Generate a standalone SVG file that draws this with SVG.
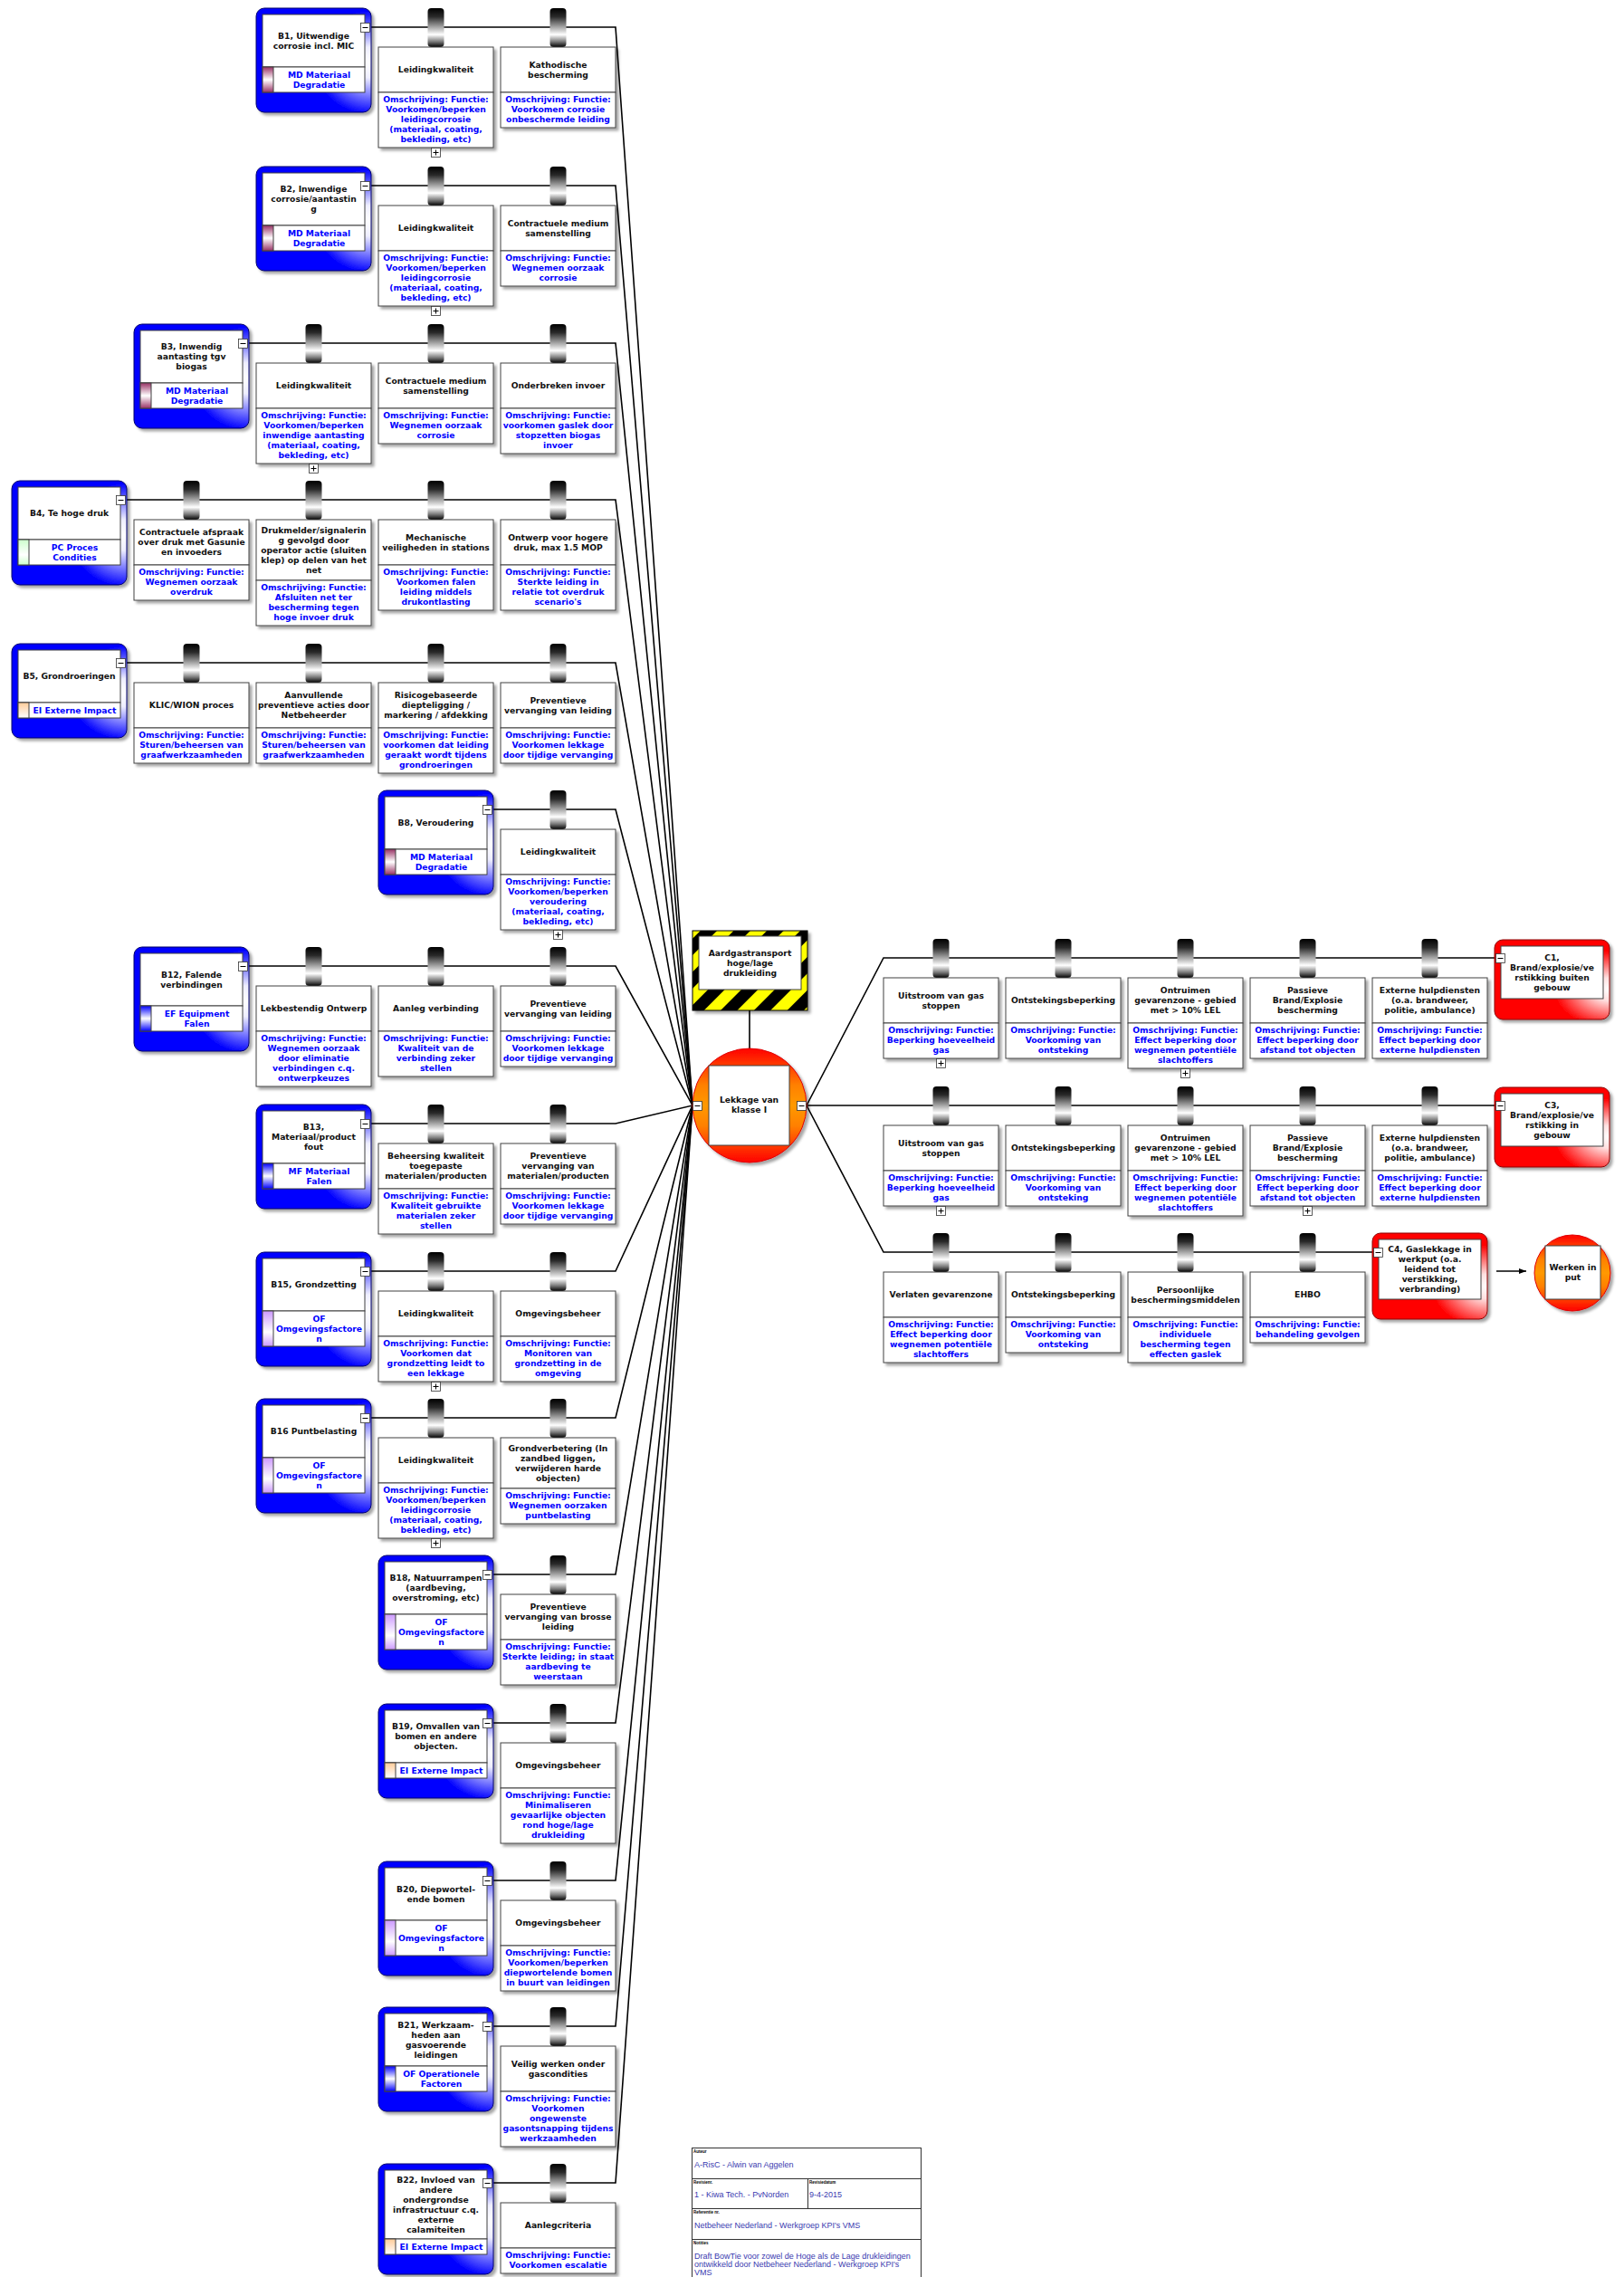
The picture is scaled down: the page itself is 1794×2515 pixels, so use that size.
<svg xmlns="http://www.w3.org/2000/svg" xmlns:xlink="http://www.w3.org/1999/xlink" width="1794" height="2515" viewBox="0 0 1794 2515">
<style>
  text { font-family: "DejaVu Sans", Verdana, sans-serif; font-weight: bold; font-size: 9.2px; text-anchor: middle; }
  .t { fill: #111111; }
  .d { fill: #0000ff; }
  .bx { fill: #ffffff; stroke: #404040; stroke-width: 1; }
  .thr { fill: url(#gThreat); stroke: #00006a; stroke-width: 1; }
  .con { fill: url(#gCons); stroke: #8a0000; stroke-width: 1; }
  .cyl { fill: url(#gCyl); }
  .sw { stroke: #404040; stroke-width: 1; }
  .ln { fill: none; stroke: #000000; stroke-width: 1.6; }
  .lg text { font-family: "Liberation Sans", Arial, sans-serif; font-weight: normal; text-anchor: start; font-size: 9px; fill: #3a3ab0; }
  .lg text.lb { font-weight: bold; font-size: 4.5px; fill: #000000; }
</style>
<defs>
  <filter id="sh" x="-10%" y="-10%" width="130%" height="130%">
    <feDropShadow dx="3" dy="3" stdDeviation="1.4" flood-color="#000000" flood-opacity="0.35"/>
  </filter>
  <radialGradient id="gThreat" cx="1" cy="0.52" r="0.5" fx="1" fy="0.52">
    <stop offset="0" stop-color="#ffffff"/>
    <stop offset="0.3" stop-color="#eeeeff"/>
    <stop offset="1" stop-color="#0000ff"/>
  </radialGradient>
  <radialGradient id="gCons" cx="1" cy="0.62" r="0.48" fx="1" fy="0.62">
    <stop offset="0" stop-color="#ffffff"/>
    <stop offset="0.3" stop-color="#ffe0e0"/>
    <stop offset="1" stop-color="#ff0000"/>
  </radialGradient>
  <linearGradient id="gCyl" x1="0" y1="0" x2="0" y2="1">
    <stop offset="0" stop-color="#000000"/>
    <stop offset="0.22" stop-color="#2a2a2a"/>
    <stop offset="0.68" stop-color="#ffffff"/>
    <stop offset="0.86" stop-color="#7a7a7a"/>
    <stop offset="1" stop-color="#000000"/>
  </linearGradient>
  <linearGradient id="gTop" x1="0" y1="0" x2="0" y2="1">
    <stop offset="0" stop-color="#ff0000"/>
    <stop offset="0.32" stop-color="#ff8000"/>
    <stop offset="0.5" stop-color="#ff9900"/>
    <stop offset="0.68" stop-color="#ff8000"/>
    <stop offset="1" stop-color="#ff0000"/>
  </linearGradient>
  <linearGradient id="swMD" x1="0" y1="0" x2="0" y2="1">
    <stop offset="0" stop-color="#993366"/><stop offset="0.5" stop-color="#ffffff"/><stop offset="1" stop-color="#993366"/>
  </linearGradient>
  <linearGradient id="swEF" x1="0" y1="0" x2="0" y2="1">
    <stop offset="0" stop-color="#0000ff"/><stop offset="0.5" stop-color="#ffffff"/><stop offset="1" stop-color="#0000ff"/>
  </linearGradient>
  <linearGradient id="swOF" x1="0" y1="0" x2="0" y2="1">
    <stop offset="0" stop-color="#cc99ff"/><stop offset="0.6" stop-color="#ffffff"/><stop offset="1" stop-color="#cc99ff"/>
  </linearGradient>
  <linearGradient id="swPC" x1="0" y1="0" x2="0" y2="1">
    <stop offset="0" stop-color="#ccffcc"/><stop offset="0.6" stop-color="#ffffff"/><stop offset="1" stop-color="#ccffcc"/>
  </linearGradient>
  <linearGradient id="swEI" x1="0" y1="0" x2="0" y2="1">
    <stop offset="0" stop-color="#ffcc99"/><stop offset="1" stop-color="#ffffff"/>
  </linearGradient>
  <pattern id="stripes" patternUnits="userSpaceOnUse" width="26" height="26" patternTransform="rotate(45)">
    <rect width="26" height="26" fill="#ffff00"/>
    <rect width="13" height="26" fill="#000000"/>
  </pattern>
  <marker id="arr" markerWidth="9" markerHeight="8" refX="8" refY="4" orient="auto" markerUnits="userSpaceOnUse">
    <path d="M0 1L8 4L0 7z" fill="#000000"/>
  </marker>
  <g id="minus"><rect x="0.5" y="0.5" width="10" height="10" fill="#ffffff" stroke="#333333" stroke-width="0.8"/><path d="M2.5 5.5h6" stroke="#000000" stroke-width="1"/></g>
  <g id="plus"><rect x="0.5" y="0.5" width="10" height="10" fill="#ffffff" stroke="#333333" stroke-width="0.8"/><path d="M2.5 5.5h6M5.5 2.5v6" stroke="#000000" stroke-width="1"/></g>
</defs>

<rect width="1794" height="2515" fill="#ffffff"/>

<!-- connectors -->
<g id="connectors" class="ln">
  <path d="M409 30H680L765 1221"/>
  <path d="M409 205H680L765 1221"/>
  <path d="M274 379H680L765 1221"/>
  <path d="M139 552H680L765 1221"/>
  <path d="M139 732H680L765 1221"/>
  <path d="M544 894H680L765 1221"/>
  <path d="M274 1067H680L765 1221"/>
  <path d="M409 1241H680L765 1221"/>
  <path d="M409 1404H680L765 1221"/>
  <path d="M409 1566H680L765 1221"/>
  <path d="M544 1739H680L765 1221"/>
  <path d="M544 1903H680L765 1221"/>
  <path d="M544 2077H680L765 1221"/>
  <path d="M544 2238H680L765 1221"/>
  <path d="M544 2411H680L765 1221"/>
  <path d="M828 1116V1158"/>
  <path d="M891 1221L976 1058H1652"/>
  <path d="M891 1221H1652"/>
  <path d="M891 1221L976 1383H1517"/>
  <path d="M1653 1404H1686" marker-end="url(#arr)"/>
</g>

<!-- ===== threats and their barriers ===== -->

<!-- B1 -->
<g id="threat-b1" transform="translate(283,0)">
  <rect class="thr" x="0" y="9" width="127" height="115" rx="9" filter="url(#sh)"/>
  <rect class="bx" x="7" y="16" width="113" height="58"/>
  <rect class="bx" x="7" y="74" width="113" height="28"/>
  <rect class="sw" x="7" y="74" width="12" height="28" fill="url(#swMD)"/>
  <text class="t" x="63.5" y="42.8">B1, Uitwendige<tspan x="63.5" dy="11">corrosie incl. MIC</tspan></text>
  <text class="d" x="69.5" y="85.8">MD Materiaal<tspan x="69.5" dy="11">Degradatie</tspan></text>
  <use href="#minus" x="115" y="25"/>
</g>
<g id="barrier-b1-1" transform="translate(418,0)">
  <rect class="cyl" x="54.5" y="9" width="18" height="43" rx="4"/>
  <g filter="url(#sh)"><rect class="bx" x="0" y="52" width="127" height="50"/><rect class="bx" x="0" y="102" width="127" height="61"/></g>
  <text class="t" x="63.5" y="80.3">Leidingkwaliteit</text>
  <text class="d" x="63.5" y="112.5">Omschrijving: Functie:<tspan x="63.5" dy="11">Voorkomen/beperken</tspan><tspan x="63.5" dy="11">leidingcorrosie</tspan><tspan x="63.5" dy="11">(materiaal, coating,</tspan><tspan x="63.5" dy="11">bekleding, etc)</tspan></text>
  <use href="#plus" x="58" y="163"/>
</g>
<g id="barrier-b1-2" transform="translate(553,0)">
  <rect class="cyl" x="54.5" y="9" width="18" height="43" rx="4"/>
  <g filter="url(#sh)"><rect class="bx" x="0" y="52" width="127" height="50"/><rect class="bx" x="0" y="102" width="127" height="39"/></g>
  <text class="t" x="63.5" y="74.8">Kathodische<tspan x="63.5" dy="11">bescherming</tspan></text>
  <text class="d" x="63.5" y="112.5">Omschrijving: Functie:<tspan x="63.5" dy="11">Voorkomen corrosie</tspan><tspan x="63.5" dy="11">onbeschermde leiding</tspan></text>
</g>

<!-- B2 -->
<g id="threat-b2" transform="translate(283,175)">
  <rect class="thr" x="0" y="9" width="127" height="115" rx="9" filter="url(#sh)"/>
  <rect class="bx" x="7" y="16" width="113" height="58"/>
  <rect class="bx" x="7" y="74" width="113" height="28"/>
  <rect class="sw" x="7" y="74" width="12" height="28" fill="url(#swMD)"/>
  <text class="t" x="63.5" y="37.3">B2, Inwendige<tspan x="63.5" dy="11">corrosie/aantastin</tspan><tspan x="63.5" dy="11">g</tspan></text>
  <text class="d" x="69.5" y="85.8">MD Materiaal<tspan x="69.5" dy="11">Degradatie</tspan></text>
  <use href="#minus" x="115" y="25"/>
</g>
<g id="barrier-b2-1" transform="translate(418,175)">
  <rect class="cyl" x="54.5" y="9" width="18" height="43" rx="4"/>
  <g filter="url(#sh)"><rect class="bx" x="0" y="52" width="127" height="50"/><rect class="bx" x="0" y="102" width="127" height="61"/></g>
  <text class="t" x="63.5" y="80.3">Leidingkwaliteit</text>
  <text class="d" x="63.5" y="112.5">Omschrijving: Functie:<tspan x="63.5" dy="11">Voorkomen/beperken</tspan><tspan x="63.5" dy="11">leidingcorrosie</tspan><tspan x="63.5" dy="11">(materiaal, coating,</tspan><tspan x="63.5" dy="11">bekleding, etc)</tspan></text>
  <use href="#plus" x="58" y="163"/>
</g>
<g id="barrier-b2-2" transform="translate(553,175)">
  <rect class="cyl" x="54.5" y="9" width="18" height="43" rx="4"/>
  <g filter="url(#sh)"><rect class="bx" x="0" y="52" width="127" height="50"/><rect class="bx" x="0" y="102" width="127" height="39"/></g>
  <text class="t" x="63.5" y="74.8">Contractuele medium<tspan x="63.5" dy="11">samenstelling</tspan></text>
  <text class="d" x="63.5" y="112.5">Omschrijving: Functie:<tspan x="63.5" dy="11">Wegnemen oorzaak</tspan><tspan x="63.5" dy="11">corrosie</tspan></text>
</g>

<!-- B3 -->
<g id="threat-b3" transform="translate(148,349)">
  <rect class="thr" x="0" y="9" width="127" height="115" rx="9" filter="url(#sh)"/>
  <rect class="bx" x="7" y="16" width="113" height="58"/>
  <rect class="bx" x="7" y="74" width="113" height="28"/>
  <rect class="sw" x="7" y="74" width="12" height="28" fill="url(#swMD)"/>
  <text class="t" x="63.5" y="37.3">B3, Inwendig<tspan x="63.5" dy="11">aantasting tgv</tspan><tspan x="63.5" dy="11">biogas</tspan></text>
  <text class="d" x="69.5" y="85.8">MD Materiaal<tspan x="69.5" dy="11">Degradatie</tspan></text>
  <use href="#minus" x="115" y="25"/>
</g>
<g id="barrier-b3-1" transform="translate(283,349)">
  <rect class="cyl" x="54.5" y="9" width="18" height="43" rx="4"/>
  <g filter="url(#sh)"><rect class="bx" x="0" y="52" width="127" height="50"/><rect class="bx" x="0" y="102" width="127" height="61"/></g>
  <text class="t" x="63.5" y="80.3">Leidingkwaliteit</text>
  <text class="d" x="63.5" y="112.5">Omschrijving: Functie:<tspan x="63.5" dy="11">Voorkomen/beperken</tspan><tspan x="63.5" dy="11">inwendige aantasting</tspan><tspan x="63.5" dy="11">(materiaal, coating,</tspan><tspan x="63.5" dy="11">bekleding, etc)</tspan></text>
  <use href="#plus" x="58" y="163"/>
</g>
<g id="barrier-b3-2" transform="translate(418,349)">
  <rect class="cyl" x="54.5" y="9" width="18" height="43" rx="4"/>
  <g filter="url(#sh)"><rect class="bx" x="0" y="52" width="127" height="50"/><rect class="bx" x="0" y="102" width="127" height="39"/></g>
  <text class="t" x="63.5" y="74.8">Contractuele medium<tspan x="63.5" dy="11">samenstelling</tspan></text>
  <text class="d" x="63.5" y="112.5">Omschrijving: Functie:<tspan x="63.5" dy="11">Wegnemen oorzaak</tspan><tspan x="63.5" dy="11">corrosie</tspan></text>
</g>
<g id="barrier-b3-3" transform="translate(553,349)">
  <rect class="cyl" x="54.5" y="9" width="18" height="43" rx="4"/>
  <g filter="url(#sh)"><rect class="bx" x="0" y="52" width="127" height="50"/><rect class="bx" x="0" y="102" width="127" height="50"/></g>
  <text class="t" x="63.5" y="80.3">Onderbreken invoer</text>
  <text class="d" x="63.5" y="112.5">Omschrijving: Functie:<tspan x="63.5" dy="11">voorkomen gaslek door</tspan><tspan x="63.5" dy="11">stopzetten biogas</tspan><tspan x="63.5" dy="11">invoer</tspan></text>
</g>

<!-- B4 -->
<g id="threat-b4" transform="translate(13,522)">
  <rect class="thr" x="0" y="9" width="127" height="115" rx="9" filter="url(#sh)"/>
  <rect class="bx" x="7" y="16" width="113" height="58"/>
  <rect class="bx" x="7" y="74" width="113" height="28"/>
  <rect class="sw" x="7" y="74" width="12" height="28" fill="url(#swPC)"/>
  <text class="t" x="63.5" y="48.3">B4, Te hoge druk</text>
  <text class="d" x="69.5" y="85.8">PC Proces<tspan x="69.5" dy="11">Condities</tspan></text>
  <use href="#minus" x="115" y="25"/>
</g>
<g id="barrier-b4-1" transform="translate(148,522)">
  <rect class="cyl" x="54.5" y="9" width="18" height="43" rx="4"/>
  <g filter="url(#sh)"><rect class="bx" x="0" y="52" width="127" height="50"/><rect class="bx" x="0" y="102" width="127" height="39"/></g>
  <text class="t" x="63.5" y="69.3">Contractuele afspraak<tspan x="63.5" dy="11">over druk met Gasunie</tspan><tspan x="63.5" dy="11">en invoeders</tspan></text>
  <text class="d" x="63.5" y="112.5">Omschrijving: Functie:<tspan x="63.5" dy="11">Wegnemen oorzaak</tspan><tspan x="63.5" dy="11">overdruk</tspan></text>
</g>
<g id="barrier-b4-2" transform="translate(283,522)">
  <rect class="cyl" x="54.5" y="9" width="18" height="43" rx="4"/>
  <g filter="url(#sh)"><rect class="bx" x="0" y="52" width="127" height="67"/><rect class="bx" x="0" y="119" width="127" height="50"/></g>
  <text class="t" x="63.5" y="66.8">Drukmelder/signalerin<tspan x="63.5" dy="11">g gevolgd door</tspan><tspan x="63.5" dy="11">operator actie (sluiten</tspan><tspan x="63.5" dy="11">klep) op delen van het</tspan><tspan x="63.5" dy="11">net</tspan></text>
  <text class="d" x="63.5" y="129.5">Omschrijving: Functie:<tspan x="63.5" dy="11">Afsluiten net ter</tspan><tspan x="63.5" dy="11">bescherming tegen</tspan><tspan x="63.5" dy="11">hoge invoer druk</tspan></text>
</g>
<g id="barrier-b4-3" transform="translate(418,522)">
  <rect class="cyl" x="54.5" y="9" width="18" height="43" rx="4"/>
  <g filter="url(#sh)"><rect class="bx" x="0" y="52" width="127" height="50"/><rect class="bx" x="0" y="102" width="127" height="50"/></g>
  <text class="t" x="63.5" y="74.8">Mechanische<tspan x="63.5" dy="11">veiligheden in stations</tspan></text>
  <text class="d" x="63.5" y="112.5">Omschrijving: Functie:<tspan x="63.5" dy="11">Voorkomen falen</tspan><tspan x="63.5" dy="11">leiding middels</tspan><tspan x="63.5" dy="11">drukontlasting</tspan></text>
</g>
<g id="barrier-b4-4" transform="translate(553,522)">
  <rect class="cyl" x="54.5" y="9" width="18" height="43" rx="4"/>
  <g filter="url(#sh)"><rect class="bx" x="0" y="52" width="127" height="50"/><rect class="bx" x="0" y="102" width="127" height="50"/></g>
  <text class="t" x="63.5" y="74.8">Ontwerp voor hogere<tspan x="63.5" dy="11">druk, max 1.5 MOP</tspan></text>
  <text class="d" x="63.5" y="112.5">Omschrijving: Functie:<tspan x="63.5" dy="11">Sterkte leiding in</tspan><tspan x="63.5" dy="11">relatie tot overdruk</tspan><tspan x="63.5" dy="11">scenario's</tspan></text>
</g>

<!-- B5 -->
<g id="threat-b5" transform="translate(13,702)">
  <rect class="thr" x="0" y="9" width="127" height="104" rx="9" filter="url(#sh)"/>
  <rect class="bx" x="7" y="16" width="113" height="58"/>
  <rect class="bx" x="7" y="74" width="113" height="17"/>
  <rect class="sw" x="7" y="74" width="12" height="17" fill="url(#swEI)"/>
  <text class="t" x="63.5" y="48.3">B5, Grondroeringen</text>
  <text class="d" x="69.5" y="85.8">EI Externe Impact</text>
  <use href="#minus" x="115" y="25"/>
</g>
<g id="barrier-b5-1" transform="translate(148,702)">
  <rect class="cyl" x="54.5" y="9" width="18" height="43" rx="4"/>
  <g filter="url(#sh)"><rect class="bx" x="0" y="52" width="127" height="50"/><rect class="bx" x="0" y="102" width="127" height="39"/></g>
  <text class="t" x="63.5" y="80.3">KLIC/WION proces</text>
  <text class="d" x="63.5" y="112.5">Omschrijving: Functie:<tspan x="63.5" dy="11">Sturen/beheersen van</tspan><tspan x="63.5" dy="11">graafwerkzaamheden</tspan></text>
</g>
<g id="barrier-b5-2" transform="translate(283,702)">
  <rect class="cyl" x="54.5" y="9" width="18" height="43" rx="4"/>
  <g filter="url(#sh)"><rect class="bx" x="0" y="52" width="127" height="50"/><rect class="bx" x="0" y="102" width="127" height="39"/></g>
  <text class="t" x="63.5" y="69.3">Aanvullende<tspan x="63.5" dy="11">preventieve acties door</tspan><tspan x="63.5" dy="11">Netbeheerder</tspan></text>
  <text class="d" x="63.5" y="112.5">Omschrijving: Functie:<tspan x="63.5" dy="11">Sturen/beheersen van</tspan><tspan x="63.5" dy="11">graafwerkzaamheden</tspan></text>
</g>
<g id="barrier-b5-3" transform="translate(418,702)">
  <rect class="cyl" x="54.5" y="9" width="18" height="43" rx="4"/>
  <g filter="url(#sh)"><rect class="bx" x="0" y="52" width="127" height="50"/><rect class="bx" x="0" y="102" width="127" height="50"/></g>
  <text class="t" x="63.5" y="69.3">Risicogebaseerde<tspan x="63.5" dy="11">diepteligging /</tspan><tspan x="63.5" dy="11">markering / afdekking</tspan></text>
  <text class="d" x="63.5" y="112.5">Omschrijving: Functie:<tspan x="63.5" dy="11">voorkomen dat leiding</tspan><tspan x="63.5" dy="11">geraakt wordt tijdens</tspan><tspan x="63.5" dy="11">grondroeringen</tspan></text>
</g>
<g id="barrier-b5-4" transform="translate(553,702)">
  <rect class="cyl" x="54.5" y="9" width="18" height="43" rx="4"/>
  <g filter="url(#sh)"><rect class="bx" x="0" y="52" width="127" height="50"/><rect class="bx" x="0" y="102" width="127" height="39"/></g>
  <text class="t" x="63.5" y="74.8">Preventieve<tspan x="63.5" dy="11">vervanging van leiding</tspan></text>
  <text class="d" x="63.5" y="112.5">Omschrijving: Functie:<tspan x="63.5" dy="11">Voorkomen lekkage</tspan><tspan x="63.5" dy="11">door tijdige vervanging</tspan></text>
</g>

<!-- B8 -->
<g id="threat-b8" transform="translate(418,864)">
  <rect class="thr" x="0" y="9" width="127" height="115" rx="9" filter="url(#sh)"/>
  <rect class="bx" x="7" y="16" width="113" height="58"/>
  <rect class="bx" x="7" y="74" width="113" height="28"/>
  <rect class="sw" x="7" y="74" width="12" height="28" fill="url(#swMD)"/>
  <text class="t" x="63.5" y="48.3">B8, Veroudering</text>
  <text class="d" x="69.5" y="85.8">MD Materiaal<tspan x="69.5" dy="11">Degradatie</tspan></text>
  <use href="#minus" x="115" y="25"/>
</g>
<g id="barrier-b8-1" transform="translate(553,864)">
  <rect class="cyl" x="54.5" y="9" width="18" height="43" rx="4"/>
  <g filter="url(#sh)"><rect class="bx" x="0" y="52" width="127" height="50"/><rect class="bx" x="0" y="102" width="127" height="61"/></g>
  <text class="t" x="63.5" y="80.3">Leidingkwaliteit</text>
  <text class="d" x="63.5" y="112.5">Omschrijving: Functie:<tspan x="63.5" dy="11">Voorkomen/beperken</tspan><tspan x="63.5" dy="11">veroudering</tspan><tspan x="63.5" dy="11">(materiaal, coating,</tspan><tspan x="63.5" dy="11">bekleding, etc)</tspan></text>
  <use href="#plus" x="58" y="163"/>
</g>

<!-- B12 -->
<g id="threat-b12" transform="translate(148,1037)">
  <rect class="thr" x="0" y="9" width="127" height="115" rx="9" filter="url(#sh)"/>
  <rect class="bx" x="7" y="16" width="113" height="58"/>
  <rect class="bx" x="7" y="74" width="113" height="28"/>
  <rect class="sw" x="7" y="74" width="12" height="28" fill="url(#swEF)"/>
  <text class="t" x="63.5" y="42.8">B12, Falende<tspan x="63.5" dy="11">verbindingen</tspan></text>
  <text class="d" x="69.5" y="85.8">EF Equipment<tspan x="69.5" dy="11">Falen</tspan></text>
  <use href="#minus" x="115" y="25"/>
</g>
<g id="barrier-b12-1" transform="translate(283,1037)">
  <rect class="cyl" x="54.5" y="9" width="18" height="43" rx="4"/>
  <g filter="url(#sh)"><rect class="bx" x="0" y="52" width="127" height="50"/><rect class="bx" x="0" y="102" width="127" height="61"/></g>
  <text class="t" x="63.5" y="80.3">Lekbestendig Ontwerp</text>
  <text class="d" x="63.5" y="112.5">Omschrijving: Functie:<tspan x="63.5" dy="11">Wegnemen oorzaak</tspan><tspan x="63.5" dy="11">door eliminatie</tspan><tspan x="63.5" dy="11">verbindingen c.q.</tspan><tspan x="63.5" dy="11">ontwerpkeuzes</tspan></text>
</g>
<g id="barrier-b12-2" transform="translate(418,1037)">
  <rect class="cyl" x="54.5" y="9" width="18" height="43" rx="4"/>
  <g filter="url(#sh)"><rect class="bx" x="0" y="52" width="127" height="50"/><rect class="bx" x="0" y="102" width="127" height="50"/></g>
  <text class="t" x="63.5" y="80.3">Aanleg verbinding</text>
  <text class="d" x="63.5" y="112.5">Omschrijving: Functie:<tspan x="63.5" dy="11">Kwaliteit van de</tspan><tspan x="63.5" dy="11">verbinding zeker</tspan><tspan x="63.5" dy="11">stellen</tspan></text>
</g>
<g id="barrier-b12-3" transform="translate(553,1037)">
  <rect class="cyl" x="54.5" y="9" width="18" height="43" rx="4"/>
  <g filter="url(#sh)"><rect class="bx" x="0" y="52" width="127" height="50"/><rect class="bx" x="0" y="102" width="127" height="39"/></g>
  <text class="t" x="63.5" y="74.8">Preventieve<tspan x="63.5" dy="11">vervanging van leiding</tspan></text>
  <text class="d" x="63.5" y="112.5">Omschrijving: Functie:<tspan x="63.5" dy="11">Voorkomen lekkage</tspan><tspan x="63.5" dy="11">door tijdige vervanging</tspan></text>
</g>

<!-- B13 -->
<g id="threat-b13" transform="translate(283,1211)">
  <rect class="thr" x="0" y="9" width="127" height="115" rx="9" filter="url(#sh)"/>
  <rect class="bx" x="7" y="16" width="113" height="58"/>
  <rect class="bx" x="7" y="74" width="113" height="28"/>
  <rect class="sw" x="7" y="74" width="12" height="28" fill="url(#swEF)"/>
  <text class="t" x="63.5" y="37.3">B13,<tspan x="63.5" dy="11">Materiaal/product</tspan><tspan x="63.5" dy="11">fout</tspan></text>
  <text class="d" x="69.5" y="85.8">MF Materiaal<tspan x="69.5" dy="11">Falen</tspan></text>
  <use href="#minus" x="115" y="25"/>
</g>
<g id="barrier-b13-1" transform="translate(418,1211)">
  <rect class="cyl" x="54.5" y="9" width="18" height="43" rx="4"/>
  <g filter="url(#sh)"><rect class="bx" x="0" y="52" width="127" height="50"/><rect class="bx" x="0" y="102" width="127" height="50"/></g>
  <text class="t" x="63.5" y="69.3">Beheersing kwaliteit<tspan x="63.5" dy="11">toegepaste</tspan><tspan x="63.5" dy="11">materialen/producten</tspan></text>
  <text class="d" x="63.5" y="112.5">Omschrijving: Functie:<tspan x="63.5" dy="11">Kwaliteit gebruikte</tspan><tspan x="63.5" dy="11">materialen zeker</tspan><tspan x="63.5" dy="11">stellen</tspan></text>
</g>
<g id="barrier-b13-2" transform="translate(553,1211)">
  <rect class="cyl" x="54.5" y="9" width="18" height="43" rx="4"/>
  <g filter="url(#sh)"><rect class="bx" x="0" y="52" width="127" height="50"/><rect class="bx" x="0" y="102" width="127" height="39"/></g>
  <text class="t" x="63.5" y="69.3">Preventieve<tspan x="63.5" dy="11">vervanging van</tspan><tspan x="63.5" dy="11">materialen/producten</tspan></text>
  <text class="d" x="63.5" y="112.5">Omschrijving: Functie:<tspan x="63.5" dy="11">Voorkomen lekkage</tspan><tspan x="63.5" dy="11">door tijdige vervanging</tspan></text>
</g>

<!-- B15 -->
<g id="threat-b15" transform="translate(283,1374)">
  <rect class="thr" x="0" y="9" width="127" height="126" rx="9" filter="url(#sh)"/>
  <rect class="bx" x="7" y="16" width="113" height="58"/>
  <rect class="bx" x="7" y="74" width="113" height="39"/>
  <rect class="sw" x="7" y="74" width="12" height="39" fill="url(#swOF)"/>
  <text class="t" x="63.5" y="48.3">B15, Grondzetting</text>
  <text class="d" x="69.5" y="85.8">OF<tspan x="69.5" dy="11">Omgevingsfactore</tspan><tspan x="69.5" dy="11">n</tspan></text>
  <use href="#minus" x="115" y="25"/>
</g>
<g id="barrier-b15-1" transform="translate(418,1374)">
  <rect class="cyl" x="54.5" y="9" width="18" height="43" rx="4"/>
  <g filter="url(#sh)"><rect class="bx" x="0" y="52" width="127" height="50"/><rect class="bx" x="0" y="102" width="127" height="50"/></g>
  <text class="t" x="63.5" y="80.3">Leidingkwaliteit</text>
  <text class="d" x="63.5" y="112.5">Omschrijving: Functie:<tspan x="63.5" dy="11">Voorkomen dat</tspan><tspan x="63.5" dy="11">grondzetting leidt to</tspan><tspan x="63.5" dy="11">een lekkage</tspan></text>
  <use href="#plus" x="58" y="152"/>
</g>
<g id="barrier-b15-2" transform="translate(553,1374)">
  <rect class="cyl" x="54.5" y="9" width="18" height="43" rx="4"/>
  <g filter="url(#sh)"><rect class="bx" x="0" y="52" width="127" height="50"/><rect class="bx" x="0" y="102" width="127" height="50"/></g>
  <text class="t" x="63.5" y="80.3">Omgevingsbeheer</text>
  <text class="d" x="63.5" y="112.5">Omschrijving: Functie:<tspan x="63.5" dy="11">Monitoren van</tspan><tspan x="63.5" dy="11">grondzetting in de</tspan><tspan x="63.5" dy="11">omgeving</tspan></text>
</g>

<!-- B16 -->
<g id="threat-b16" transform="translate(283,1536)">
  <rect class="thr" x="0" y="9" width="127" height="126" rx="9" filter="url(#sh)"/>
  <rect class="bx" x="7" y="16" width="113" height="58"/>
  <rect class="bx" x="7" y="74" width="113" height="39"/>
  <rect class="sw" x="7" y="74" width="12" height="39" fill="url(#swOF)"/>
  <text class="t" x="63.5" y="48.3">B16 Puntbelasting</text>
  <text class="d" x="69.5" y="85.8">OF<tspan x="69.5" dy="11">Omgevingsfactore</tspan><tspan x="69.5" dy="11">n</tspan></text>
  <use href="#minus" x="115" y="25"/>
</g>
<g id="barrier-b16-1" transform="translate(418,1536)">
  <rect class="cyl" x="54.5" y="9" width="18" height="43" rx="4"/>
  <g filter="url(#sh)"><rect class="bx" x="0" y="52" width="127" height="50"/><rect class="bx" x="0" y="102" width="127" height="61"/></g>
  <text class="t" x="63.5" y="80.3">Leidingkwaliteit</text>
  <text class="d" x="63.5" y="112.5">Omschrijving: Functie:<tspan x="63.5" dy="11">Voorkomen/beperken</tspan><tspan x="63.5" dy="11">leidingcorrosie</tspan><tspan x="63.5" dy="11">(materiaal, coating,</tspan><tspan x="63.5" dy="11">bekleding, etc)</tspan></text>
  <use href="#plus" x="58" y="163"/>
</g>
<g id="barrier-b16-2" transform="translate(553,1536)">
  <rect class="cyl" x="54.5" y="9" width="18" height="43" rx="4"/>
  <g filter="url(#sh)"><rect class="bx" x="0" y="52" width="127" height="56"/><rect class="bx" x="0" y="108" width="127" height="39"/></g>
  <text class="t" x="63.5" y="66.8">Grondverbetering (In<tspan x="63.5" dy="11">zandbed liggen,</tspan><tspan x="63.5" dy="11">verwijderen harde</tspan><tspan x="63.5" dy="11">objecten)</tspan></text>
  <text class="d" x="63.5" y="118.5">Omschrijving: Functie:<tspan x="63.5" dy="11">Wegnemen oorzaken</tspan><tspan x="63.5" dy="11">puntbelasting</tspan></text>
</g>

<!-- B18 -->
<g id="threat-b18" transform="translate(418,1709)">
  <rect class="thr" x="0" y="9" width="127" height="126" rx="9" filter="url(#sh)"/>
  <rect class="bx" x="7" y="16" width="113" height="58"/>
  <rect class="bx" x="7" y="74" width="113" height="39"/>
  <rect class="sw" x="7" y="74" width="12" height="39" fill="url(#swOF)"/>
  <text class="t" x="63.5" y="37.3">B18, Natuurrampen<tspan x="63.5" dy="11">(aardbeving,</tspan><tspan x="63.5" dy="11">overstroming, etc)</tspan></text>
  <text class="d" x="69.5" y="85.8">OF<tspan x="69.5" dy="11">Omgevingsfactore</tspan><tspan x="69.5" dy="11">n</tspan></text>
  <use href="#minus" x="115" y="25"/>
</g>
<g id="barrier-b18-1" transform="translate(553,1709)">
  <rect class="cyl" x="54.5" y="9" width="18" height="43" rx="4"/>
  <g filter="url(#sh)"><rect class="bx" x="0" y="52" width="127" height="50"/><rect class="bx" x="0" y="102" width="127" height="50"/></g>
  <text class="t" x="63.5" y="69.3">Preventieve<tspan x="63.5" dy="11">vervanging van brosse</tspan><tspan x="63.5" dy="11">leiding</tspan></text>
  <text class="d" x="63.5" y="112.5">Omschrijving: Functie:<tspan x="63.5" dy="11">Sterkte leiding; in staat</tspan><tspan x="63.5" dy="11">aardbeving te</tspan><tspan x="63.5" dy="11">weerstaan</tspan></text>
</g>

<!-- B19 -->
<g id="threat-b19" transform="translate(418,1873)">
  <rect class="thr" x="0" y="9" width="127" height="104" rx="9" filter="url(#sh)"/>
  <rect class="bx" x="7" y="16" width="113" height="58"/>
  <rect class="bx" x="7" y="74" width="113" height="17"/>
  <rect class="sw" x="7" y="74" width="12" height="17" fill="url(#swEI)"/>
  <text class="t" x="63.5" y="37.3">B19, Omvallen van<tspan x="63.5" dy="11">bomen en andere</tspan><tspan x="63.5" dy="11">objecten.</tspan></text>
  <text class="d" x="69.5" y="85.8">EI Externe Impact</text>
  <use href="#minus" x="115" y="25"/>
</g>
<g id="barrier-b19-1" transform="translate(553,1873)">
  <rect class="cyl" x="54.5" y="9" width="18" height="43" rx="4"/>
  <g filter="url(#sh)"><rect class="bx" x="0" y="52" width="127" height="50"/><rect class="bx" x="0" y="102" width="127" height="61"/></g>
  <text class="t" x="63.5" y="80.3">Omgevingsbeheer</text>
  <text class="d" x="63.5" y="112.5">Omschrijving: Functie:<tspan x="63.5" dy="11">Minimaliseren</tspan><tspan x="63.5" dy="11">gevaarlijke objecten</tspan><tspan x="63.5" dy="11">rond hoge/lage</tspan><tspan x="63.5" dy="11">drukleiding</tspan></text>
</g>

<!-- B20 -->
<g id="threat-b20" transform="translate(418,2047)">
  <rect class="thr" x="0" y="9" width="127" height="126" rx="9" filter="url(#sh)"/>
  <rect class="bx" x="7" y="16" width="113" height="58"/>
  <rect class="bx" x="7" y="74" width="113" height="39"/>
  <rect class="sw" x="7" y="74" width="12" height="39" fill="url(#swOF)"/>
  <text class="t" x="63.5" y="42.8">B20, Diepwortel-<tspan x="63.5" dy="11">ende bomen</tspan></text>
  <text class="d" x="69.5" y="85.8">OF<tspan x="69.5" dy="11">Omgevingsfactore</tspan><tspan x="69.5" dy="11">n</tspan></text>
  <use href="#minus" x="115" y="25"/>
</g>
<g id="barrier-b20-1" transform="translate(553,2047)">
  <rect class="cyl" x="54.5" y="9" width="18" height="43" rx="4"/>
  <g filter="url(#sh)"><rect class="bx" x="0" y="52" width="127" height="50"/><rect class="bx" x="0" y="102" width="127" height="50"/></g>
  <text class="t" x="63.5" y="80.3">Omgevingsbeheer</text>
  <text class="d" x="63.5" y="112.5">Omschrijving: Functie:<tspan x="63.5" dy="11">Voorkomen/beperken</tspan><tspan x="63.5" dy="11">diepwortelende bomen</tspan><tspan x="63.5" dy="11">in buurt van leidingen</tspan></text>
</g>

<!-- B21 -->
<g id="threat-b21" transform="translate(418,2208)">
  <rect class="thr" x="0" y="9" width="127" height="115" rx="9" filter="url(#sh)"/>
  <rect class="bx" x="7" y="16" width="113" height="58"/>
  <rect class="bx" x="7" y="74" width="113" height="28"/>
  <rect class="sw" x="7" y="74" width="12" height="28" fill="url(#swEF)"/>
  <text class="t" x="63.5" y="31.8">B21, Werkzaam-<tspan x="63.5" dy="11">heden aan</tspan><tspan x="63.5" dy="11">gasvoerende</tspan><tspan x="63.5" dy="11">leidingen</tspan></text>
  <text class="d" x="69.5" y="85.8">OF Operationele<tspan x="69.5" dy="11">Factoren</tspan></text>
  <use href="#minus" x="115" y="25"/>
</g>
<g id="barrier-b21-1" transform="translate(553,2208)">
  <rect class="cyl" x="54.5" y="9" width="18" height="43" rx="4"/>
  <g filter="url(#sh)"><rect class="bx" x="0" y="52" width="127" height="50"/><rect class="bx" x="0" y="102" width="127" height="61"/></g>
  <text class="t" x="63.5" y="74.8">Veilig werken onder<tspan x="63.5" dy="11">gascondities</tspan></text>
  <text class="d" x="63.5" y="112.5">Omschrijving: Functie:<tspan x="63.5" dy="11">Voorkomen</tspan><tspan x="63.5" dy="11">ongewenste</tspan><tspan x="63.5" dy="11">gasontsnapping tijdens</tspan><tspan x="63.5" dy="11">werkzaamheden</tspan></text>
</g>

<!-- B22 -->
<g id="threat-b22" transform="translate(418,2381)">
  <rect class="thr" x="0" y="9" width="127" height="122" rx="9" filter="url(#sh)"/>
  <rect class="bx" x="7" y="16" width="113" height="76"/>
  <rect class="bx" x="7" y="92" width="113" height="17"/>
  <rect class="sw" x="7" y="92" width="12" height="17" fill="url(#swEI)"/>
  <text class="t" x="63.5" y="29.8">B22, Invloed van<tspan x="63.5" dy="11">andere</tspan><tspan x="63.5" dy="11">ondergrondse</tspan><tspan x="63.5" dy="11">infrastructuur c.q.</tspan><tspan x="63.5" dy="11">externe</tspan><tspan x="63.5" dy="11">calamiteiten</tspan></text>
  <text class="d" x="69.5" y="103.8">EI Externe Impact</text>
  <use href="#minus" x="115" y="25"/>
</g>
<g id="barrier-b22-1" transform="translate(553,2381)">
  <rect class="cyl" x="54.5" y="9" width="18" height="43" rx="4"/>
  <g filter="url(#sh)"><rect class="bx" x="0" y="52" width="127" height="50"/><rect class="bx" x="0" y="102" width="127" height="28"/></g>
  <text class="t" x="63.5" y="80.3">Aanlegcriteria</text>
  <text class="d" x="63.5" y="112.5">Omschrijving: Functie:<tspan x="63.5" dy="11">Voorkomen escalatie</tspan></text>
</g>

<!-- ===== hazard and top event ===== -->
<g id="hazard">
  <rect x="765" y="1028" width="127" height="88" fill="url(#stripes)" stroke="#000000" stroke-width="1" filter="url(#sh)"/>
  <rect class="bx" x="772" y="1034" width="113" height="59"/>
  <text class="t" x="828.5" y="1055.8">Aardgastransport<tspan x="828.5" dy="11">hoge/lage</tspan><tspan x="828.5" dy="11">drukleiding</tspan></text>
</g>
<g id="top-event">
  <circle cx="828" cy="1221" r="63" fill="url(#gTop)" stroke="#e00000" stroke-width="1" filter="url(#sh)"/>
  <rect class="bx" x="783" y="1177" width="89" height="88"/>
  <text class="t" x="827.5" y="1218.3">Lekkage van<tspan x="827.5" dy="11">klasse I</tspan></text>
  <use href="#minus" x="765" y="1216"/>
  <use href="#minus" x="880" y="1216"/>
</g>

<!-- ===== consequence side: row C1 ===== -->
<g id="barrier-c1-1" transform="translate(976,1028)">
  <rect class="cyl" x="54.5" y="9" width="18" height="43" rx="4"/>
  <g filter="url(#sh)"><rect class="bx" x="0" y="52" width="127" height="50"/><rect class="bx" x="0" y="102" width="127" height="39"/></g>
  <text class="t" x="63.5" y="74.8">Uitstroom van gas<tspan x="63.5" dy="11">stoppen</tspan></text>
  <text class="d" x="63.5" y="112.5">Omschrijving: Functie:<tspan x="63.5" dy="11">Beperking hoeveelheid</tspan><tspan x="63.5" dy="11">gas</tspan></text>
  <use href="#plus" x="58" y="141"/>
</g>
<g id="barrier-c1-2" transform="translate(1111,1028)">
  <rect class="cyl" x="54.5" y="9" width="18" height="43" rx="4"/>
  <g filter="url(#sh)"><rect class="bx" x="0" y="52" width="127" height="50"/><rect class="bx" x="0" y="102" width="127" height="39"/></g>
  <text class="t" x="63.5" y="80.3">Ontstekingsbeperking</text>
  <text class="d" x="63.5" y="112.5">Omschrijving: Functie:<tspan x="63.5" dy="11">Voorkoming van</tspan><tspan x="63.5" dy="11">ontsteking</tspan></text>
</g>
<g id="barrier-c1-3" transform="translate(1246,1028)">
  <rect class="cyl" x="54.5" y="9" width="18" height="43" rx="4"/>
  <g filter="url(#sh)"><rect class="bx" x="0" y="52" width="127" height="50"/><rect class="bx" x="0" y="102" width="127" height="50"/></g>
  <text class="t" x="63.5" y="69.3">Ontruimen<tspan x="63.5" dy="11">gevarenzone - gebied</tspan><tspan x="63.5" dy="11">met &gt; 10% LEL</tspan></text>
  <text class="d" x="63.5" y="112.5">Omschrijving: Functie:<tspan x="63.5" dy="11">Effect beperking door</tspan><tspan x="63.5" dy="11">wegnemen potentiële</tspan><tspan x="63.5" dy="11">slachtoffers</tspan></text>
  <use href="#plus" x="58" y="152"/>
</g>
<g id="barrier-c1-4" transform="translate(1381,1028)">
  <rect class="cyl" x="54.5" y="9" width="18" height="43" rx="4"/>
  <g filter="url(#sh)"><rect class="bx" x="0" y="52" width="127" height="50"/><rect class="bx" x="0" y="102" width="127" height="39"/></g>
  <text class="t" x="63.5" y="69.3">Passieve<tspan x="63.5" dy="11">Brand/Explosie</tspan><tspan x="63.5" dy="11">bescherming</tspan></text>
  <text class="d" x="63.5" y="112.5">Omschrijving: Functie:<tspan x="63.5" dy="11">Effect beperking door</tspan><tspan x="63.5" dy="11">afstand tot objecten</tspan></text>
</g>
<g id="barrier-c1-5" transform="translate(1516,1028)">
  <rect class="cyl" x="54.5" y="9" width="18" height="43" rx="4"/>
  <g filter="url(#sh)"><rect class="bx" x="0" y="52" width="127" height="50"/><rect class="bx" x="0" y="102" width="127" height="39"/></g>
  <text class="t" x="63.5" y="69.3">Externe hulpdiensten<tspan x="63.5" dy="11">(o.a. brandweer,</tspan><tspan x="63.5" dy="11">politie, ambulance)</tspan></text>
  <text class="d" x="63.5" y="112.5">Omschrijving: Functie:<tspan x="63.5" dy="11">Effect beperking door</tspan><tspan x="63.5" dy="11">externe hulpdiensten</tspan></text>
</g>
<g id="consequence-c1" transform="translate(1651,1028)">
  <rect class="con" x="0" y="10" width="127" height="88" rx="9" filter="url(#sh)"/>
  <rect class="bx" x="7" y="17" width="113" height="58"/>
  <text class="t" x="63.5" y="32.8">C1,<tspan x="63.5" dy="11">Brand/explosie/ve</tspan><tspan x="63.5" dy="11">rstikking buiten</tspan><tspan x="63.5" dy="11">gebouw</tspan></text>
  <use href="#minus" x="1" y="25"/>
</g>

<!-- row C3 -->
<g id="barrier-c3-1" transform="translate(976,1191)">
  <rect class="cyl" x="54.5" y="9" width="18" height="43" rx="4"/>
  <g filter="url(#sh)"><rect class="bx" x="0" y="52" width="127" height="50"/><rect class="bx" x="0" y="102" width="127" height="39"/></g>
  <text class="t" x="63.5" y="74.8">Uitstroom van gas<tspan x="63.5" dy="11">stoppen</tspan></text>
  <text class="d" x="63.5" y="112.5">Omschrijving: Functie:<tspan x="63.5" dy="11">Beperking hoeveelheid</tspan><tspan x="63.5" dy="11">gas</tspan></text>
  <use href="#plus" x="58" y="141"/>
</g>
<g id="barrier-c3-2" transform="translate(1111,1191)">
  <rect class="cyl" x="54.5" y="9" width="18" height="43" rx="4"/>
  <g filter="url(#sh)"><rect class="bx" x="0" y="52" width="127" height="50"/><rect class="bx" x="0" y="102" width="127" height="39"/></g>
  <text class="t" x="63.5" y="80.3">Ontstekingsbeperking</text>
  <text class="d" x="63.5" y="112.5">Omschrijving: Functie:<tspan x="63.5" dy="11">Voorkoming van</tspan><tspan x="63.5" dy="11">ontsteking</tspan></text>
</g>
<g id="barrier-c3-3" transform="translate(1246,1191)">
  <rect class="cyl" x="54.5" y="9" width="18" height="43" rx="4"/>
  <g filter="url(#sh)"><rect class="bx" x="0" y="52" width="127" height="50"/><rect class="bx" x="0" y="102" width="127" height="50"/></g>
  <text class="t" x="63.5" y="69.3">Ontruimen<tspan x="63.5" dy="11">gevarenzone - gebied</tspan><tspan x="63.5" dy="11">met &gt; 10% LEL</tspan></text>
  <text class="d" x="63.5" y="112.5">Omschrijving: Functie:<tspan x="63.5" dy="11">Effect beperking door</tspan><tspan x="63.5" dy="11">wegnemen potentiële</tspan><tspan x="63.5" dy="11">slachtoffers</tspan></text>
</g>
<g id="barrier-c3-4" transform="translate(1381,1191)">
  <rect class="cyl" x="54.5" y="9" width="18" height="43" rx="4"/>
  <g filter="url(#sh)"><rect class="bx" x="0" y="52" width="127" height="50"/><rect class="bx" x="0" y="102" width="127" height="39"/></g>
  <text class="t" x="63.5" y="69.3">Passieve<tspan x="63.5" dy="11">Brand/Explosie</tspan><tspan x="63.5" dy="11">bescherming</tspan></text>
  <text class="d" x="63.5" y="112.5">Omschrijving: Functie:<tspan x="63.5" dy="11">Effect beperking door</tspan><tspan x="63.5" dy="11">afstand tot objecten</tspan></text>
  <use href="#plus" x="58" y="141"/>
</g>
<g id="barrier-c3-5" transform="translate(1516,1191)">
  <rect class="cyl" x="54.5" y="9" width="18" height="43" rx="4"/>
  <g filter="url(#sh)"><rect class="bx" x="0" y="52" width="127" height="50"/><rect class="bx" x="0" y="102" width="127" height="39"/></g>
  <text class="t" x="63.5" y="69.3">Externe hulpdiensten<tspan x="63.5" dy="11">(o.a. brandweer,</tspan><tspan x="63.5" dy="11">politie, ambulance)</tspan></text>
  <text class="d" x="63.5" y="112.5">Omschrijving: Functie:<tspan x="63.5" dy="11">Effect beperking door</tspan><tspan x="63.5" dy="11">externe hulpdiensten</tspan></text>
</g>
<g id="consequence-c3" transform="translate(1651,1191)">
  <rect class="con" x="0" y="10" width="127" height="88" rx="9" filter="url(#sh)"/>
  <rect class="bx" x="7" y="17" width="113" height="58"/>
  <text class="t" x="63.5" y="32.8">C3,<tspan x="63.5" dy="11">Brand/explosie/ve</tspan><tspan x="63.5" dy="11">rstikking  in</tspan><tspan x="63.5" dy="11">gebouw</tspan></text>
  <use href="#minus" x="1" y="25"/>
</g>

<!-- row C4 -->
<g id="barrier-c4-1" transform="translate(976,1353)">
  <rect class="cyl" x="54.5" y="9" width="18" height="43" rx="4"/>
  <g filter="url(#sh)"><rect class="bx" x="0" y="52" width="127" height="50"/><rect class="bx" x="0" y="102" width="127" height="50"/></g>
  <text class="t" x="63.5" y="80.3">Verlaten gevarenzone</text>
  <text class="d" x="63.5" y="112.5">Omschrijving: Functie:<tspan x="63.5" dy="11">Effect beperking door</tspan><tspan x="63.5" dy="11">wegnemen potentiële</tspan><tspan x="63.5" dy="11">slachtoffers</tspan></text>
</g>
<g id="barrier-c4-2" transform="translate(1111,1353)">
  <rect class="cyl" x="54.5" y="9" width="18" height="43" rx="4"/>
  <g filter="url(#sh)"><rect class="bx" x="0" y="52" width="127" height="50"/><rect class="bx" x="0" y="102" width="127" height="39"/></g>
  <text class="t" x="63.5" y="80.3">Ontstekingsbeperking</text>
  <text class="d" x="63.5" y="112.5">Omschrijving: Functie:<tspan x="63.5" dy="11">Voorkoming van</tspan><tspan x="63.5" dy="11">ontsteking</tspan></text>
</g>
<g id="barrier-c4-3" transform="translate(1246,1353)">
  <rect class="cyl" x="54.5" y="9" width="18" height="43" rx="4"/>
  <g filter="url(#sh)"><rect class="bx" x="0" y="52" width="127" height="50"/><rect class="bx" x="0" y="102" width="127" height="50"/></g>
  <text class="t" x="63.5" y="74.8">Persoonlijke<tspan x="63.5" dy="11">beschermingsmiddelen</tspan></text>
  <text class="d" x="63.5" y="112.5">Omschrijving: Functie:<tspan x="63.5" dy="11">individuele</tspan><tspan x="63.5" dy="11">bescherming tegen</tspan><tspan x="63.5" dy="11">effecten gaslek</tspan></text>
</g>
<g id="barrier-c4-4" transform="translate(1381,1353)">
  <rect class="cyl" x="54.5" y="9" width="18" height="43" rx="4"/>
  <g filter="url(#sh)"><rect class="bx" x="0" y="52" width="127" height="50"/><rect class="bx" x="0" y="102" width="127" height="28"/></g>
  <text class="t" x="63.5" y="80.3">EHBO</text>
  <text class="d" x="63.5" y="112.5">Omschrijving: Functie:<tspan x="63.5" dy="11">behandeling gevolgen</tspan></text>
</g>
<g id="consequence-c4" transform="translate(1516,1353)">
  <rect class="con" x="0" y="9" width="127" height="95" rx="9" filter="url(#sh)"/>
  <rect class="bx" x="7" y="16" width="113" height="66"/>
  <text class="t" x="63.5" y="30.3">C4, Gaslekkage in<tspan x="63.5" dy="11">werkput (o.a.</tspan><tspan x="63.5" dy="11">leidend tot</tspan><tspan x="63.5" dy="11">verstikking,</tspan><tspan x="63.5" dy="11">verbranding)</tspan></text>
  <use href="#minus" x="1" y="25"/>
</g>

<!-- escalation: Werken in put -->
<g id="escalation-werken-in-put">
  <circle cx="1737" cy="1406" r="42" fill="url(#gTop)" stroke="#e00000" stroke-width="1" filter="url(#sh)"/>
  <rect class="bx" x="1707" y="1376" width="61" height="59"/>
  <text class="t" x="1737.5" y="1403">Werken in<tspan x="1737.5" dy="11">put</tspan></text>
</g>

<!-- document properties -->
<g id="legend" class="lg">
  <rect x="764.5" y="2372.5" width="253" height="150" fill="#ffffff" stroke="#333333" stroke-width="1"/>
  <path d="M764.5 2406.5H1017.5M764.5 2439.5H1017.5M764.5 2473.5H1017.5M892.5 2406.5V2439.5" stroke="#333333" stroke-width="1" fill="none"/>
  <text class="lb" x="766" y="2378">Auteur</text>
  <text x="767" y="2393.5">A-RisC - Alwin van Aggelen</text>
  <text class="lb" x="766" y="2412">Revisienr.</text>
  <text x="767" y="2426.5">1 - Kiwa Tech. - PvNorden</text>
  <text class="lb" x="894" y="2412">Revisiedatum</text>
  <text x="894" y="2426.5">9-4-2015</text>
  <text class="lb" x="766" y="2445">Referentie nr.</text>
  <text x="767" y="2460.5">Netbeheer Nederland - Werkgroep KPI's VMS</text>
  <text class="lb" x="766" y="2479">Notities</text>
  <text x="767" y="2495.3">Draft BowTie voor zowel de Hoge als de Lage drukleidingen</text>
  <text x="767" y="2504.3">ontwikkeld door Netbeheer Nederland - Werkgroep KPI's</text>
  <text x="767" y="2513.3">VMS</text>
</g>
</svg>
